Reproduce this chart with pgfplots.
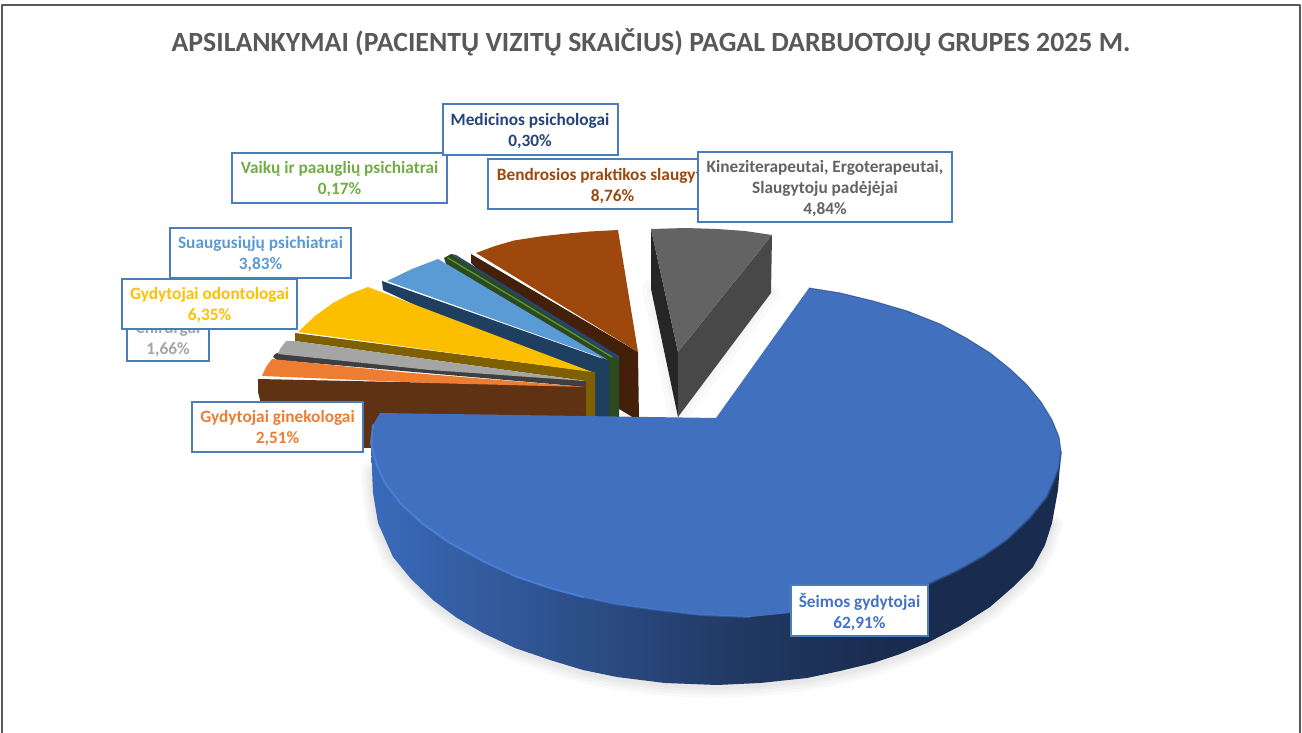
\documentclass[border=0pt]{standalone}
\usepackage{fontspec}
\setmainfont{Carlito}
\usepackage{pgfplots}
\usepackage{pgfplotstable}
\pgfplotsset{compat=1.18}

\definecolor{cTitle}{HTML}{595959}
\definecolor{cBox}{HTML}{4A7EBB}
\definecolor{cBlue}{HTML}{4170BF}
\definecolor{cRim}{HTML}{4C82DC}
\definecolor{cEdge}{HTML}{2A4A82}
\definecolor{cGrayT}{HTML}{636363}
\definecolor{cGrayL}{HTML}{262626}
\definecolor{cGrayR}{HTML}{484848}
\definecolor{cBrown}{HTML}{9E480E}
\definecolor{cBrownD}{HTML}{43200A}
\definecolor{cNavy}{HTML}{264478}
\definecolor{cGreen}{HTML}{70AD47}
\definecolor{cGreenD}{HTML}{2B4A1E}
\definecolor{cSky}{HTML}{5B9BD5}
\definecolor{cSkyD}{HTML}{1F3F60}
\definecolor{cYellow}{HTML}{FBBF00}
\definecolor{cYellowD}{HTML}{7F6000}
\definecolor{cSilver}{HTML}{A5A5A5}
\definecolor{cSilverD}{HTML}{3F3F3F}
\definecolor{cOrange}{HTML}{ED7D31}
\definecolor{cOrangeD}{HTML}{5F3213}
\definecolor{cLabBlue}{HTML}{4472C4}
\definecolor{cLabYellow}{HTML}{FFC000}
\definecolor{sideA}{HTML}{3A6ABA}
\definecolor{sideB}{HTML}{325A9C}
\definecolor{sideC}{HTML}{284578}
\definecolor{sideD}{HTML}{203861}
\definecolor{sideE}{HTML}{192B4E}

\pgfdeclarehorizontalshading{blueside}{100bp}{
  color(0bp)=(sideA); color(25bp)=(sideA); color(34bp)=(sideB); color(45bp)=(sideC);
  color(52.5bp)=(sideD); color(63bp)=(sideE); color(100bp)=(sideE)}

% lower outline of the big slice (reference pixels, y downwards)
\pgfplotstableread{
x y
371 443
372 470
373 493
378 523
393 557
411 579
433 600
457 618
483 633
515 648
550 660
583 670
617 677
665 683
717 685
760 683
807 678
840 671
873 663
900 654
927 643
960 626
990 607
1013 587
1033 567
1045 545
1052 523
1058 490
1061 452
}\bluebottom

% same outline without its two ends, for the shadow
\pgfplotstableread{
x y
372 470
373 493
378 523
393 557
411 579
433 600
457 618
483 633
515 648
550 660
583 670
617 677
665 683
717 685
760 683
807 678
840 671
873 663
900 654
927 643
960 626
990 607
1013 587
1033 567
1045 545
1052 523
}\blueshadow

% upper face of the big slice
\pgfplotstableread{
x y
716 418
809 288
840 293
873 301
907 311
940 324
966 338
990 353
1010 369
1027 385
1041 402
1052 420
1059 437
1061 452
1059 468
1053 483
1047 497
1030 518
1007 540
984 556
957 571
927 585
890 597
850 606
790 613
750 617
700 615
650 609
615 604
583 597
550 588
517 577
483 561
450 543
423 524
400 503
385 483
376 463
371 443
373 425
380 413
}\bluetop

\newcommand{\labelbox}[4]{\filldraw[draw=cBox,fill=white,line width=1.6pt]
  (axis cs:#1,#2) rectangle (axis cs:#3,#4);}
\newcommand{\labeltext}[4]{\node[anchor=center,align=center,inner sep=0pt,text=#3,
  font=\fontsize{17.3}{21}\selectfont\bfseries] at (axis cs:#1,#2) {#4};}

\begin{document}
\begin{tikzpicture}
\path[use as bounding box] (0,0) rectangle (1302pt,733pt);
\begin{axis}[
    at={(0,0)},anchor=south west,
    width=1302pt,height=733pt,scale only axis,
    xmin=0,xmax=1302,ymin=0,ymax=733,y dir=reverse,
    hide axis,no markers,
    every axis plot/.append style={line join=round,line cap=round,forget plot}
]
% frame
\addplot[color=cTitle,line width=1.6pt] coordinates {(2,733) (2,5) (1300,5) (1300,733)};

% soft shadows
\addplot[draw=black,opacity=.022,line width=22pt,yshift=-2pt] table {\blueshadow};
\addplot[draw=black,opacity=.022,line width=16pt,yshift=-2pt] table {\blueshadow};
\addplot[draw=black,opacity=.022,line width=10pt,yshift=-2pt] table {\blueshadow};
\addplot[draw=black,opacity=.022,line width=5pt,yshift=-2pt] table {\blueshadow};
\addplot[draw=black,opacity=.018,line width=18pt] coordinates {(651,289) (678,417) (771,293)};
\addplot[draw=black,opacity=.018,line width=9pt] coordinates {(651,289) (678,417) (771,293)};

% Kineziterapeutai
\addplot[fill=cGrayL,draw=none] coordinates {(651,229) (651,289) (678,417) (678,352)};
\addplot[fill=cGrayR,draw=none] coordinates {(772,235) (771,293) (678,417) (678,352)};
\addplot[fill=cGrayT,draw=none] coordinates {(678,352) (651,229) (685,228) (717,229) (745,231) (772,235)};

% Bendrosios praktikos slaugytojai
\addplot[fill=cBrownD,draw=none] coordinates {(471,254) (471,263) (495,285) (619,370) (619,409) (639,421) (638,352)};
\addplot[fill=cBrown,draw=none] coordinates {(638,352) (618,230) (590,231.5) (565,233.7) (540,236.5) (514,240.5) (495,246) (476,253)};

% Medicinos psichologai
\addplot[fill=cNavy,draw=none] coordinates {(451,254) (456,255) (619,356) (619,362)};

% Vaikų ir paauglių psichiatrai
\addplot[fill=cGreenD,draw=none] coordinates {(444,258) (446,264) (609,362) (609,419) (619,419) (619,360) (451,254)};
\addplot[color=cGreen!85!black,line width=1.3pt] coordinates {(448,258) (612,357)};

% Suaugusiųjų psichiatrai
\addplot[fill=cSkyD,draw=none] coordinates {(382,281) (383,290) (430,312) (595,376) (595,419) (609,419) (609,361)};
\addplot[fill=cSky,draw=none] coordinates {(387,281) (412,269) (438,259) (608,360)};

% Gydytojai odontologai
\addplot[fill=cYellowD,draw=none] coordinates {(295,333) (295,341) (586,381) (586,419) (595,419) (595,372)};
\addplot[fill=cYellow,draw=none] coordinates {(592,372) (298,332) (315,316) (333,303) (350,294) (368,287)};

% Chirurgai
\addplot[fill=cSilverD,draw=none] coordinates {(275,354) (273,357) (277,360) (586,387) (586,381) (280,352)};
\addplot[fill=cSilver,draw=none] coordinates {(586,381) (430,370) (278,354) (280,349) (286,341) (295,341)};

% Gydytojai ginekologai
\addplot[fill=cOrangeD,draw=none] coordinates {(258,379) (258,392) (261,404) (300,447) (380,448) (586,448) (586,386)};
\addplot[fill=cOrange,draw=none] coordinates {(586,387) (430,383) (262,376) (266,367) (272,359) (400,372)};

% Šeimos gydytojai
\addplot[shading=blueside,draw=none] table {\bluebottom};
\addplot[fill=cBlue,draw=none] table {\bluetop};
\addplot[color=cEdge,line width=1pt,opacity=.7] coordinates {(809,288) (840,293) (873,301) (907,311) (940,324) (966,338) (990,353) (1010,369) (1027,385) (1041,402) (1052,420) (1059,437) (1061,452)};
\addplot[color=cEdge,line width=2pt,opacity=.6] coordinates {(1061,452) (1059,468) (1053,483) (1047,497) (1030,518) (1007,540) (984,556) (957,571) (927,585) (890,597) (850,606) (790,613)};
\addplot[color=cRim,line width=2pt,opacity=.85] coordinates {(373,425) (371,443) (376,463) (385,483) (400,503) (423,524) (450,543) (483,561) (517,577) (550,588) (583,597)};
\addplot[color=cRim,line width=2pt,opacity=.4] coordinates {(583,597) (615,604) (650,609) (700,615) (750,617)};

% title
\node[anchor=base,text=cTitle,font=\fontsize{27.8}{32}\selectfont\bfseries] at (axis cs:651,52)
  {APSILANKYMAI (PACIENTŲ VIZITŲ SKAIČIUS) PAGAL DARBUOTOJŲ GRUPES 2025 M.};

% labels
\labelbox{127}{310}{209}{361}
\labeltext{168}{339}{cSilver}{Chirurgai\\1,66\%}
\labelbox{192}{402}{363}{452}
\labeltext{277.5}{428.5}{cOrange}{Gydytojai ginekologai\\2,51\%}
\labelbox{170}{228}{351}{278}
\labeltext{260.5}{254.5}{cSky}{Suaugusiųjų psichiatrai\\3,83\%}
\labelbox{122}{279}{297}{329}
\labeltext{209.5}{305.5}{cLabYellow}{Gydytojai odontologai\\6,35\%}
\labelbox{232}{153}{447}{203}
\labeltext{339.5}{179.5}{cGreen}{Vaikų ir paauglių psichiatrai\\0,17\%}
\labelbox{443}{104}{618}{155}
\labeltext{530}{131.5}{cNavy}{Medicinos psichologai\\0,30\%}
\labelbox{488}{159}{739}{209}
\labeltext{612.5}{186.5}{cBrown}{Bendrosios praktikos slaugytojai\\8,76\%}
\labelbox{698}{152}{952}{222}
\labeltext{825}{189}{cGrayT}{Kineziterapeutai, Ergoterapeutai,\\Slaugytoju padėjėjai\\4,84\%}
\labelbox{791}{585}{928}{636}
\labeltext{859.5}{612.5}{cLabBlue}{Šeimos gydytojai\\62,91\%}
\end{axis}
\end{tikzpicture}
\end{document}
